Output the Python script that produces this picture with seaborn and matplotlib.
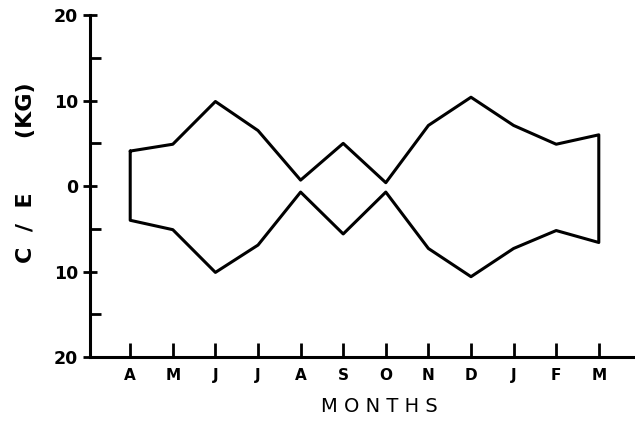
"""C/E by month, symmetric outline plot"""

import matplotlib
matplotlib.use("Agg")
import matplotlib.pyplot as plt
import seaborn as sns

# data
months = ["A", "M", "J", "J", "A", "S", "O", "N", "D", "J", "F", "M"]
upper = [4.1, 4.9, 9.9, 6.5, 0.7, 5.0, 0.4, 7.1, 10.4, 7.1, 4.9, 6.0]
lower = [-4.0, -5.1, -10.1, -6.9, -0.7, -5.6, -0.7, -7.3, -10.6, -7.3, -5.2, -6.6]
y_ticks = [-20, -10, 0, 10, 20]
y_tick_labels = ["20", "10", "0", "10", "20"]

sns.set_style("ticks", {"text.color": "black", "axes.labelcolor": "black",
                        "xtick.color": "black", "ytick.color": "black",
                        "axes.edgecolor": "black"})
plt.rcParams["font.family"] = ["DejaVu Sans"]

fig = plt.figure(figsize=(6.35, 4.22), dpi=100)
ax = fig.add_axes([0.142, 0.154, 0.858, 0.81])

# closed outline: upper curve out, lower curve back, ends joined vertically
idx = list(range(len(months)))
xs = idx + idx[::-1] + [idx[0]]
ys = upper + lower[::-1] + [upper[0]]
sns.lineplot(x=xs, y=ys, sort=False, estimator=None, color="black",
             linewidth=2.2, ax=ax)

ax.set_xlim(-0.94, 11.85)
ax.set_ylim(-20, 20)
ax.set_xticks(idx)
ax.set_xticklabels(months, fontsize=11, fontweight="bold")
ax.set_yticks(y_ticks)
ax.set_yticklabels(y_tick_labels, fontsize=12.5, fontweight="bold")
ax.set_yticks([-15, -5, 5, 15], minor=True)

sns.despine(ax=ax)
for side in ["left", "bottom"]:
    ax.spines[side].set_linewidth(2.2)
ax.tick_params(axis="y", which="major", direction="inout", length=10, width=2)
ax.tick_params(axis="y", which="minor", direction="in", length=8, width=2)
ax.tick_params(axis="x", which="major", direction="in", length=10, width=2, pad=8)

ax.set_xlabel("M O N T H S", fontsize=14)
ax.xaxis.set_label_coords(0.53, -0.118)
ax.set_ylabel("C  /  E       (KG)", fontsize=16, fontweight="bold")
ax.yaxis.set_label_coords(-0.099, 0.538)

plt.savefig("out.png", dpi=100)
plt.close()
